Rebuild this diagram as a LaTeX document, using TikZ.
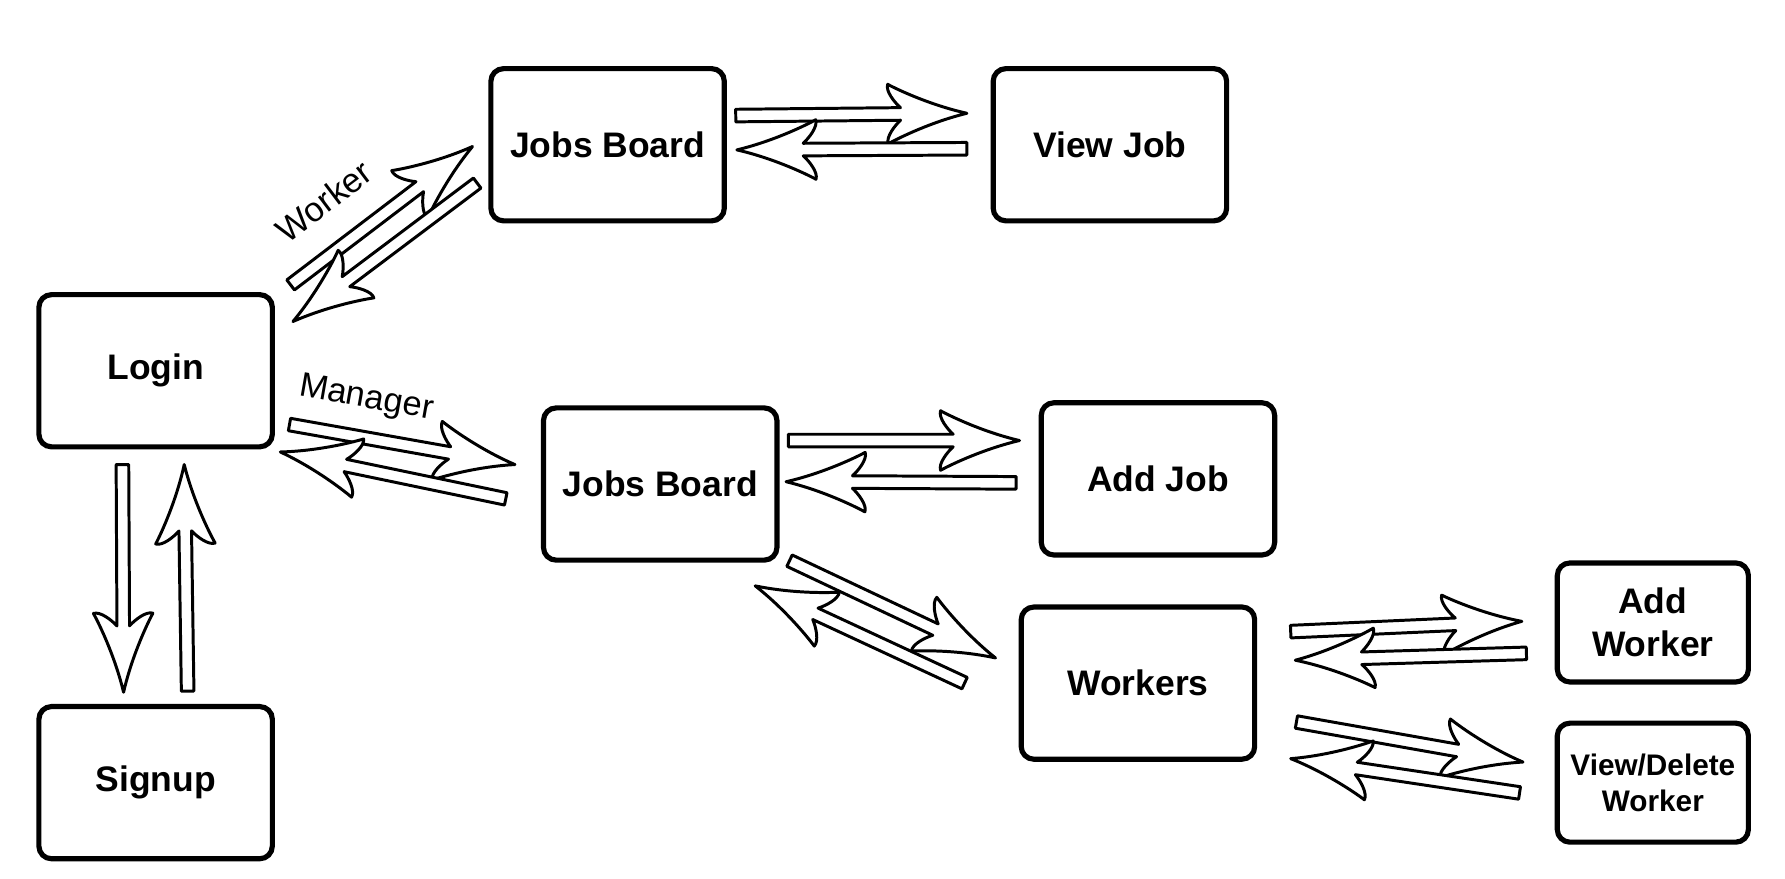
\documentclass[tikz,border=0pt]{standalone}
\usepackage{fontspec}
\setmainfont{Liberation Sans}
\usepackage{tikz}
\usetikzlibrary{calc}

\tikzset{
  box/.style={draw, line width=4.5pt, rounded corners=11pt, minimum width=204pt,
    minimum height=133pt, align=center, font=\fontsize{31}{38}\selectfont\bfseries},
  smallbox/.style={box, minimum width=167pt, minimum height=104pt},
  lbl/.style={font=\fontsize{30}{36}\selectfont},
  hollow/.style={draw, fill=white, line width=2.6pt, line join=round}
}

% hollow arrow with swept head, from #1 to #2
\newcommand{\hollowarrow}[2]{%
  \path let \p1=($(#2)-(#1)$) in
    \pgfextra{\pgfmathsetmacro{\ha}{atan2(\y1,\x1)}\global\let\arrang\ha
      \pgfmathsetmacro{\hl}{veclen(\x1,\y1)}\global\let\arrlen\hl};
  \draw[hollow, shift={(#1)}, rotate=\arrang]
    (0,5.5) -- ({\arrlen-58},5.5)
    .. controls ({\arrlen-63},10) and ({\arrlen-71},20) .. ({\arrlen-69},26)
    .. controls ({\arrlen-58},20) and ({\arrlen-30},7) .. (\arrlen,0)
    .. controls ({\arrlen-30},-7) and ({\arrlen-58},-20) .. ({\arrlen-69},-26)
    .. controls ({\arrlen-71},-20) and ({\arrlen-63},-10) .. ({\arrlen-58},-5.5)
    -- (0,-5.5) -- cycle;
}

\begin{document}
\begin{tikzpicture}[x=1pt, y=-1pt]
  \useasboundingbox (0,0) rectangle (1560,768);

  % screens
  \node[box] (login) at (136,324) {Login};
  \node[box] (signup) at (136,684) {Signup};
  \node[box] (jbw) at (531,126.5) {Jobs Board};
  \node[box] (viewjob) at (970,126.5) {View Job};
  \node[box] (jbm) at (577,423) {Jobs Board};
  \node[box] (addjob) at (1012,418.5) {Add Job};
  \node[box] (workers) at (994.5,597) {Workers};
  \node[smallbox] (addworker) at (1444.5,544) {Add\\Worker};
  \node[smallbox, font=\fontsize{26}{31}\selectfont\bfseries] (viewdel) at (1444.5,684) {View/Delete\\Worker};

  % arrow ends
  \coordinate (wa1) at (254,249);  \coordinate (wa2) at (413,128);
  \coordinate (wb1) at (417,160);  \coordinate (wb2) at (256,281);
  \coordinate (ma1) at (253,371);  \coordinate (ma2) at (450,406);
  \coordinate (mb1) at (442,436);  \coordinate (mb2) at (245,395);
  \coordinate (sa1) at (107,406);  \coordinate (sa2) at (108,605);
  \coordinate (sb1) at (164,604);  \coordinate (sb2) at (161,406);
  \coordinate (va1) at (643,101);  \coordinate (va2) at (845,99);
  \coordinate (vb1) at (845,130);  \coordinate (vb2) at (644,131);
  \coordinate (ja1) at (689,385);  \coordinate (ja2) at (891,385);
  \coordinate (jb1) at (888,422);  \coordinate (jb2) at (687,421);
  \coordinate (ka1) at (690,490);  \coordinate (ka2) at (870,575);
  \coordinate (kb1) at (843,597);  \coordinate (kb2) at (660,512);
  \coordinate (aa1) at (1128,552); \coordinate (aa2) at (1330,543);
  \coordinate (ab1) at (1334,571); \coordinate (ab2) at (1132,577);
  \coordinate (da1) at (1133,631); \coordinate (da2) at (1331,666);
  \coordinate (db1) at (1328,693); \coordinate (db2) at (1128,663);

  \hollowarrow{wa1}{wa2}
  \hollowarrow{wb1}{wb2}
  \hollowarrow{ma1}{ma2}
  \hollowarrow{mb1}{mb2}
  \hollowarrow{sa1}{sa2}
  \hollowarrow{sb1}{sb2}
  \hollowarrow{va1}{va2}
  \hollowarrow{vb1}{vb2}
  \hollowarrow{ja1}{ja2}
  \hollowarrow{jb1}{jb2}
  \hollowarrow{ka1}{ka2}
  \hollowarrow{kb1}{kb2}
  \hollowarrow{aa1}{aa2}
  \hollowarrow{ab1}{ab2}
  \hollowarrow{da1}{da2}
  \hollowarrow{db1}{db2}

  % role labels
  \node[lbl, rotate=37] (wlbl) at (283,176) {Worker};
  \node[lbl, rotate=-10] (mlbl) at (320,349) {Manager};
\end{tikzpicture}
\end{document}
